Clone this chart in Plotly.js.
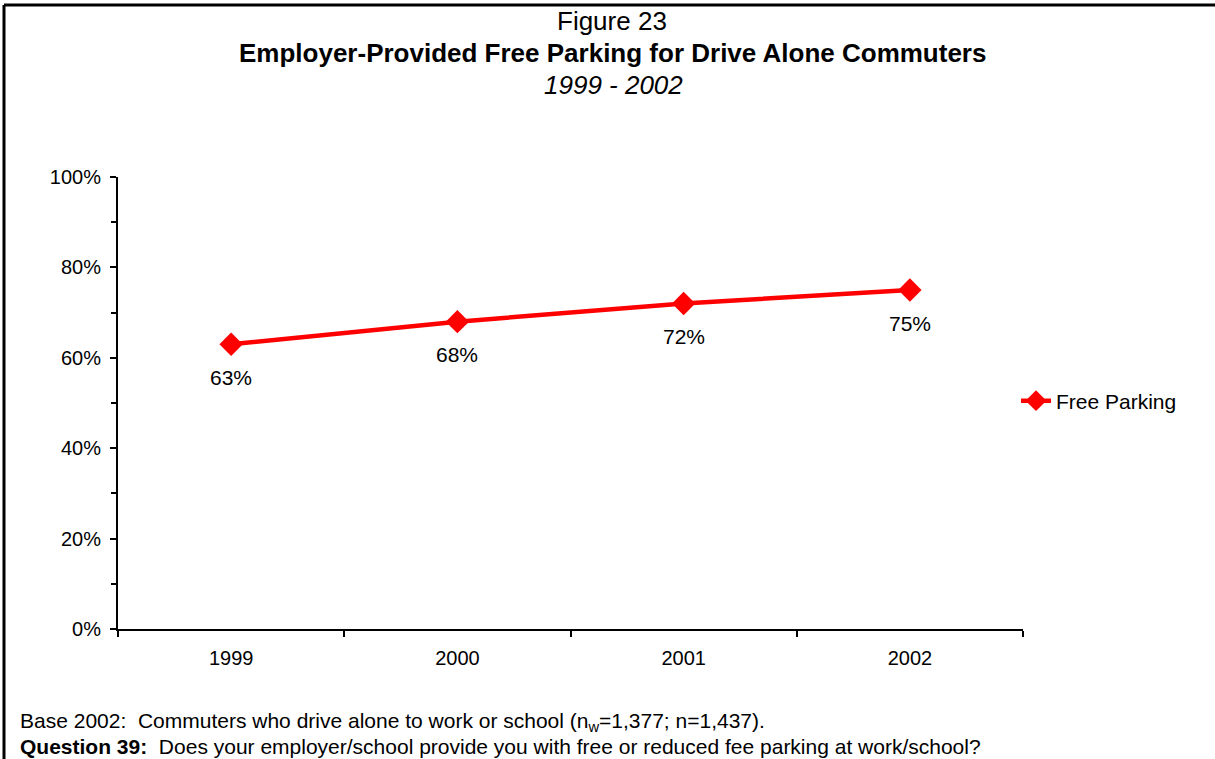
<!DOCTYPE html>
<html>
<head>
<meta charset="utf-8">
<script src="https://cdn.plot.ly/plotly-3.0.1.min.js"></script>
<style>html,body{margin:0;padding:0;background:#fff;}#chart{width:1215px;height:759px;}</style>
</head>
<body>
<div id="chart"></div>
<script>
const years = ['1999', '2000', '2001', '2002'];
const freeParking = [0.63, 0.68, 0.72, 0.75];
const pointLabels = ['63%', '68%', '72%', '75%'];
const seriesName = 'Free Parking';

const W = 1215, H = 759;
const L = 118, R = 1023, T = 177, B = 629;
const pw = R - L, ph = B - T;
const px = x => (x - L) / pw;
const py = y => (B - y) / ph;
const FONT = 'Liberation Sans, Arial, sans-serif';

const trace = {
  x: years,
  y: freeParking,
  type: 'scatter',
  mode: 'lines+markers',
  name: seriesName,
  line: {color: '#ff0000', width: 4.5},
  marker: {symbol: 'diamond', size: 18, color: '#ff0000'},
  cliponaxis: false
};

// category axis: annotation x given as category index
const labelAnnotations = years.map((yr, i) => ({
  x: i, y: freeParking[i], xref: 'x', yref: 'y',
  text: pointLabels[i], showarrow: false,
  xanchor: 'center', yanchor: 'middle', yshift: -33,
  font: {family: FONT, size: 21, color: '#000'}
}));

const layout = {
  width: W, height: H,
  margin: {l: L, r: W - R, t: T, b: H - B},
  paper_bgcolor: '#fff', plot_bgcolor: '#fff',
  font: {family: FONT, color: '#000'},
  showlegend: true,
  legend: {
    x: px(1016), y: py(401), xanchor: 'left', yanchor: 'middle',
    font: {family: FONT, size: 21, color: '#000'},
    bgcolor: 'rgba(0,0,0,0)'
  },
  xaxis: {
    type: 'category',
    categoryarray: years, categoryorder: 'array',
    range: [-0.5, 3.5],
    showline: true, linecolor: '#000', linewidth: 2,
    ticks: 'outside', tickson: 'boundaries', ticklen: 6, tickwidth: 2, tickcolor: '#000',
    ticklabelstandoff: 10,
    showgrid: false, zeroline: false,
    tickfont: {family: FONT, size: 20, color: '#000'}
  },
  yaxis: {
    range: [0, 1],
    dtick: 0.2, tickformat: '.0%',
    showline: true, linecolor: '#000', linewidth: 2,
    ticks: 'outside', ticklen: 6, tickwidth: 2, tickcolor: '#000',
    ticklabelstandoff: 5,
    minor: {dtick: 0.1, ticks: 'outside', ticklen: 5, tickwidth: 2, tickcolor: '#000', showgrid: false},
    showgrid: false, zeroline: false,
    tickfont: {family: FONT, size: 20, color: '#000'}
  },
  shapes: [
    {type: 'line', xref: 'paper', yref: 'paper', x0: px(4), x1: px(4), y0: py(5), y1: py(770), line: {color: '#000', width: 3}},
    {type: 'line', xref: 'paper', yref: 'paper', x0: px(4), x1: px(1225), y0: py(5), y1: py(5), line: {color: '#000', width: 3}}
  ],
  annotations: labelAnnotations.concat([
    {text: 'Figure 23', xref: 'paper', yref: 'paper', x: px(612), y: py(21), xanchor: 'center', yanchor: 'middle', showarrow: false, font: {family: FONT, size: 26, color: '#000'}},
    {text: '<b>Employer-Provided Free Parking for Drive Alone Commuters</b>', xref: 'paper', yref: 'paper', x: px(612), y: py(53), xanchor: 'center', yanchor: 'middle', showarrow: false, font: {family: FONT, size: 26, color: '#000'}},
    {text: '<i>1999 - 2002</i>', xref: 'paper', yref: 'paper', x: px(613), y: py(85), xanchor: 'center', yanchor: 'middle', showarrow: false, font: {family: FONT, size: 26, color: '#000'}},
    {text: 'Base 2002:  Commuters who drive alone to work or school (n<sub>w</sub>=1,377; n=1,437).', xref: 'paper', yref: 'paper', x: px(18), y: py(722), xanchor: 'left', yanchor: 'middle', showarrow: false, font: {family: FONT, size: 21, color: '#000'}},
    {text: '<b>Question 39:</b>  Does your employer/school provide you with free or reduced fee parking at work/school?', xref: 'paper', yref: 'paper', x: px(18), y: py(746), xanchor: 'left', yanchor: 'middle', showarrow: false, font: {family: FONT, size: 21, color: '#000'}}
  ])
};

Plotly.newPlot('chart', [trace], layout, {displayModeBar: false, staticPlot: true});
</script>
</body>
</html>
